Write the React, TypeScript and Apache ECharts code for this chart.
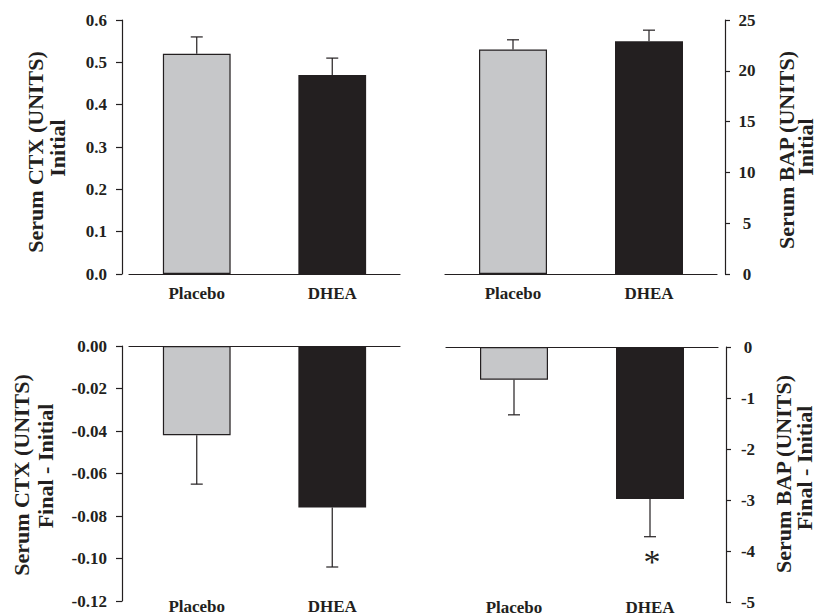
import React, { useEffect, useRef } from "react";
import * as echarts from "echarts";

const categories = ["Placebo", "DHEA"];
const ctxInitial = [0.52, 0.47];
const ctxInitialSem = [0.04, 0.04];
const bapInitial = [22.1, 22.9];
const bapInitialSem = [0.95, 1.1];
const ctxChange = [-0.042, -0.076];
const ctxChangeSem = [0.023, 0.028];
const bapChange = [-0.64, -2.98];
const bapChangeSem = [0.69, 0.74];
const bapChangeMark = ["", "*"];
const bapChangeMarkY = [0, -4.2];

const ctxInitialTicks = { min: 0, max: 0.6, interval: 0.1, digits: 1 };
const bapInitialTicks = { min: 0, max: 25, interval: 5, digits: 0 };
const ctxChangeTicks = { min: -0.12, max: 0, interval: 0.02, digits: 2 };
const bapChangeTicks = { min: -5, max: 0, interval: 1, digits: 0 };

const INK = "#231F20";
const GRAY = "#C6C7C9";
const FONT = "'Liberation Serif', 'Times New Roman', serif";

export default function App() {
  const ref = useRef<HTMLDivElement>(null);
  useEffect(() => {
    document.body.style.margin = "0";
    if (!ref.current) return;
    const chart = echarts.init(ref.current, undefined, { renderer: "svg" });

    const grids = [
      { left: 129, top: 20, width: 271, height: 254 },
      { left: 445, top: 20, width: 272, height: 254 },
      { left: 129, top: 346, width: 271, height: 255 },
      { left: 446, top: 347, width: 272, height: 255 },
    ];

    const catLabel = (margin: number, show = true) => ({
      show,
      margin,
      fontFamily: FONT,
      fontWeight: "bold" as const,
      fontSize: 17,
      color: INK,
    });

    const xAxes: any[] = [];
    [0, 1].forEach((g) => {
      xAxes.push({
        type: "category",
        gridIndex: g,
        data: categories,
        position: "bottom",
        axisLine: { show: true, onZero: false, lineStyle: { color: INK, width: 1.2 } },
        axisTick: { show: false },
        axisLabel: catLabel(11),
      });
    });
    [2, 3].forEach((g) => {
      xAxes.push({
        type: "category",
        gridIndex: g,
        data: categories,
        position: "bottom",
        axisLine: { show: false, onZero: false },
        axisTick: { show: false },
        axisLabel: catLabel(-3),
      });
    });
    [2, 3].forEach((g) => {
      xAxes.push({
        type: "category",
        gridIndex: g,
        data: categories,
        position: "top",
        axisLine: { show: true, onZero: false, lineStyle: { color: INK, width: 1.2 } },
        axisTick: { show: false },
        axisLabel: { show: false },
      });
    });

    const yAxis = (g: number, t: any, right: boolean) => ({
      type: "value",
      gridIndex: g,
      position: right ? "right" : "left",
      offset: right ? 8 : 7,
      min: t.min,
      max: t.max,
      interval: t.interval,
      splitLine: { show: false },
      axisLine: { show: true, lineStyle: { color: INK, width: 1.2 } },
      axisTick: { show: true, length: right ? 5 : 6, lineStyle: { color: INK, width: 1.2 } },
      axisLabel: {
        margin: right ? 22 : 15,
        align: right ? "center" : "right",
        fontFamily: FONT,
        fontWeight: "bold",
        fontSize: 17,
        color: INK,
        formatter: (v: number) => (Math.abs(v) < 1e-9 ? 0 : v).toFixed(t.digits),
      },
    });

    const barSeries = (g: number, values: number[]) => ({
      type: "bar",
      xAxisIndex: g,
      yAxisIndex: g,
      barWidth: "50%",
      data: values.map((v, i) => ({
        value: v,
        itemStyle: {
          color: i === 0 ? GRAY : INK,
          borderColor: INK,
          borderWidth: 1.2,
        },
      })),
    });

    const errSeries = (g: number, values: number[], sem: number[]) => ({
      type: "custom",
      xAxisIndex: g,
      yAxisIndex: g,
      z: 1,
      data: values.map((v, i) => [i, v, v + Math.sign(v) * sem[i]]),
      renderItem: (params: any, api: any) => {
        const x = api.value(0);
        const p0 = api.coord([x, api.value(1)]);
        const p1 = api.coord([x, api.value(2)]);
        const hw = 6;
        const st = { stroke: INK, lineWidth: 1.2 };
        return {
          type: "group",
          children: [
            { type: "line", shape: { x1: p0[0], y1: p0[1], x2: p1[0], y2: p1[1] }, style: st },
            { type: "line", shape: { x1: p1[0] - hw, y1: p1[1], x2: p1[0] + hw, y2: p1[1] }, style: st },
          ],
        };
      },
    });

    const markSeries = {
      type: "custom",
      xAxisIndex: 3,
      yAxisIndex: 3,
      data: bapChangeMark.map((m, i) => [i, bapChangeMarkY[i]]),
      renderItem: (params: any, api: any) => {
        const idx = params.dataIndex;
        const txt = bapChangeMark[idx];
        if (!txt) return null;
        const p = api.coord([api.value(0), api.value(1)]);
        return {
          type: "text",
          x: p[0] + 2,
          y: p[1],
          style: {
            text: txt,
            fontFamily: FONT,
            fontSize: 34,
            fill: INK,
            align: "center",
            verticalAlign: "middle",
            textAlign: "center",
            textVerticalAlign: "middle",
          },
        };
      },
    };

    const title = (text: string, x: number, y: number) => ({
      type: "text",
      x,
      y,
      rotation: Math.PI / 2,
      style: {
        text,
        fontFamily: FONT,
        fontWeight: "bold",
        fontSize: 22,
        fill: INK,
        align: "center",
        verticalAlign: "middle",
        textAlign: "center",
        textVerticalAlign: "middle",
      },
    });

    chart.setOption({
      animation: false,
      grid: grids,
      xAxis: xAxes,
      yAxis: [
        yAxis(0, ctxInitialTicks, false),
        yAxis(1, bapInitialTicks, true),
        yAxis(2, ctxChangeTicks, false),
        yAxis(3, bapChangeTicks, true),
      ],
      series: [
        barSeries(0, ctxInitial),
        errSeries(0, ctxInitial, ctxInitialSem),
        barSeries(1, bapInitial),
        errSeries(1, bapInitial, bapInitialSem),
        barSeries(2, ctxChange),
        errSeries(2, ctxChange, ctxChangeSem),
        barSeries(3, bapChange),
        errSeries(3, bapChange, bapChangeSem),
        markSeries,
      ],
      graphic: [
        title("Serum CTX (UNITS)", 35.3, 152),
        title("Initial", 57.6, 148),
        title("Serum BAP (UNITS)", 786, 150),
        title("Initial", 805, 147),
        title("Serum CTX (UNITS)", 21, 475),
        title("Final - Initial", 45, 466),
        title("Serum BAP (UNITS)", 783, 474),
        title("Final - Initial", 804, 468),
      ],
    });
    return () => chart.dispose();
  }, []);
  return <div ref={ref} style={{ width: 817, height: 616 }} />;
}
